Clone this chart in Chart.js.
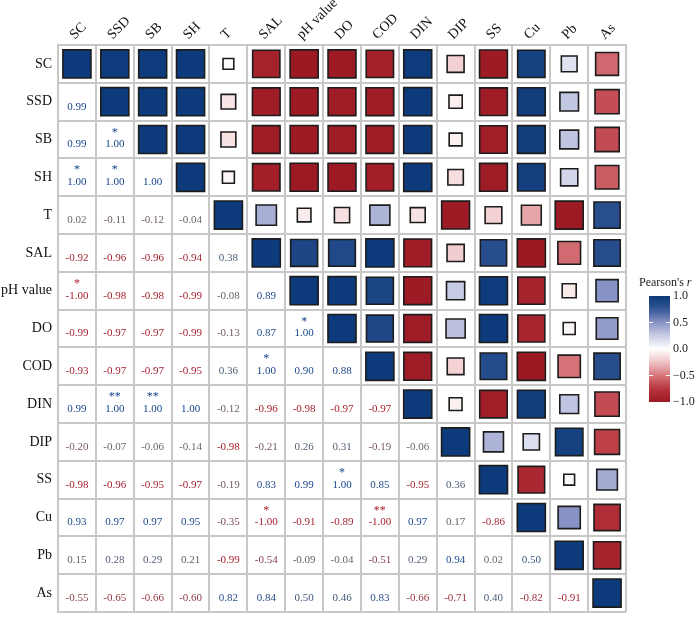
<!DOCTYPE html>
<html lang="en">
<head>
    <meta charset="UTF-8">
    <title>Correlation matrix</title>
    <script src="https://cdn.jsdelivr.net/npm/chart.js"></script>
    <style>
        body { margin: 0; background: #fff; }
    </style>
</head>
<body>
    <canvas id="myChart" width="700" height="617"></canvas>

    <script>
        const vars = ['SC', 'SSD', 'SB', 'SH', 'T', 'SAL', 'pH value', 'DO', 'COD', 'DIN', 'DIP', 'SS', 'Cu', 'Pb', 'As'];

        // lower triangle, one row per variable (columns SC .. previous variable)
        const rSSD = [0.99];
        const rSB = [0.99, 1.00];
        const rSH = [1.00, 1.00, 1.00];
        const rT = [0.02, -0.11, -0.12, -0.04];
        const rSAL = [-0.92, -0.96, -0.96, -0.94, 0.38];
        const rPH = [-1.00, -0.98, -0.98, -0.99, -0.08, 0.89];
        const rDO = [-0.99, -0.97, -0.97, -0.99, -0.13, 0.87, 1.00];
        const rCOD = [-0.93, -0.97, -0.97, -0.95, 0.36, 1.00, 0.90, 0.88];
        const rDIN = [0.99, 1.00, 1.00, 1.00, -0.12, -0.96, -0.98, -0.97, -0.97];
        const rDIP = [-0.20, -0.07, -0.06, -0.14, -0.98, -0.21, 0.26, 0.31, -0.19, -0.06];
        const rSS = [-0.98, -0.96, -0.95, -0.97, -0.19, 0.83, 0.99, 1.00, 0.85, -0.95, 0.36];
        const rCu = [0.93, 0.97, 0.97, 0.95, -0.35, -1.00, -0.91, -0.89, -1.00, 0.97, 0.17, -0.86];
        const rPb = [0.15, 0.28, 0.29, 0.21, -0.99, -0.54, -0.09, -0.04, -0.51, 0.29, 0.94, 0.02, 0.50];
        const rAs = [-0.55, -0.65, -0.66, -0.60, 0.82, 0.84, 0.50, 0.46, 0.83, -0.66, -0.71, 0.40, -0.82, -0.91];

        // significance marks: [row, column, mark]
        const sigMarks = [
            ['SB', 'SSD', '*'], ['SH', 'SC', '*'], ['SH', 'SSD', '*'],
            ['pH value', 'SC', '*'], ['DO', 'pH value', '*'], ['COD', 'SAL', '*'],
            ['DIN', 'SSD', '**'], ['DIN', 'SB', '**'], ['SS', 'DO', '*'],
            ['Cu', 'SAL', '*'], ['Cu', 'COD', '**']
        ];

        const legendTicks = [1.0, 0.5, 0.0, -0.5, -1.0];

        const lowerRows = [[], rSSD, rSB, rSH, rT, rSAL, rPH, rDO, rCOD, rDIN, rDIP, rSS, rCu, rPb, rAs];
        const n = vars.length;
        const corr = [];
        for (let i = 0; i < n; i++) {
            corr.push([]);
            for (let j = 0; j < n; j++) {
                if (i === j) corr[i].push(1);
                else if (j < i) corr[i].push(lowerRows[i][j]);
                else corr[i].push(lowerRows[j][i]);
            }
        }

        const fillStops = [
            [-1, [155, 25, 35]], [-0.75, [184, 52, 62]], [-0.5, [214, 118, 123]],
            [-0.25, [240, 196, 198]], [0, [255, 255, 255]],
            [0.25, [202, 206, 230]], [0.5, [136, 146, 196]], [0.75, [52, 86, 150]],
            [1, [12, 58, 122]]
        ];
        const textStops = [[-1, [168, 30, 44]], [0, [105, 105, 105]], [1, [22, 70, 140]]];

        function colorAt(stops, v) {
            for (let k = 0; k < stops.length - 1; k++) {
                const [a, ca] = stops[k], [b, cb] = stops[k + 1];
                if (v >= a && v <= b) {
                    const t = (v - a) / (b - a);
                    const c = ca.map((x, q) => Math.round(x + (cb[q] - x) * t));
                    return 'rgb(' + c.join(',') + ')';
                }
            }
            return 'rgb(' + stops[stops.length - 1][1].join(',') + ')';
        }

        const squares = [];
        for (let i = 0; i < n; i++) {
            for (let j = i; j < n; j++) {
                squares.push({ x: vars[j], y: vars[i], r: corr[i][j] });
            }
        }

        function cellSize(chart) {
            const a = chart.chartArea;
            return a ? (a.right - a.left) / n : 37.8;
        }

        const serif = '"Liberation Serif", "DejaVu Serif", serif';

        const textPlugin = {
            id: 'cellText',
            afterDatasetsDraw(chart) {
                const ctx = chart.ctx;
                const xs = chart.scales.x, ys = chart.scales.y;
                ctx.save();
                ctx.textAlign = 'center';
                ctx.textBaseline = 'middle';
                for (let i = 1; i < n; i++) {
                    for (let j = 0; j < i; j++) {
                        const v = corr[i][j];
                        const px = xs.getPixelForValue(j);
                        const py = ys.getPixelForValue(i);
                        ctx.fillStyle = colorAt(textStops, v);
                        ctx.font = '11px ' + serif;
                        ctx.fillText(v.toFixed(2), px, py + 5);
                        const m = sigMarks.find(s => s[0] === vars[i] && s[1] === vars[j]);
                        if (m) {
                            ctx.font = '12px ' + serif;
                            ctx.fillText(m[2], px, py - 7);
                        }
                    }
                }
                ctx.restore();
            },
            afterDraw(chart) {
                // colour bar legend
                const ctx = chart.ctx;
                const bx = 649, bw = 21, top = 296, bot = 402;
                const yFor = v => top + (1 - v) / 2 * (bot - top);
                ctx.save();
                const g = ctx.createLinearGradient(0, top, 0, bot);
                for (let k = 0; k <= 20; k++) {
                    const v = 1 - k / 10;
                    g.addColorStop(k / 20, colorAt(fillStops, v));
                }
                ctx.fillStyle = g;
                ctx.fillRect(bx, top, bw, bot - top);
                ctx.strokeStyle = '#fff';
                ctx.lineWidth = 1;
                ctx.fillStyle = '#222';
                ctx.font = '12px ' + serif;
                ctx.textAlign = 'left';
                ctx.textBaseline = 'middle';
                legendTicks.forEach(v => {
                    const y = yFor(v);
                    if (Math.abs(v) < 1) {
                        ctx.beginPath();
                        ctx.moveTo(bx, y); ctx.lineTo(bx + 4, y);
                        ctx.moveTo(bx + bw - 4, y); ctx.lineTo(bx + bw, y);
                        ctx.stroke();
                    }
                    const s = v.toFixed(1).replace('-', '\u2212');
                    ctx.fillText(s, bx + bw + 3, y);
                });
                ctx.textBaseline = 'alphabetic';
                ctx.font = '12px ' + serif;
                ctx.fillText("Pearson's ", 639, 286);
                const w = ctx.measureText("Pearson's ").width;
                ctx.font = 'italic 12px ' + serif;
                ctx.fillText('r', 639 + w, 286);
                ctx.restore();
            }
        };

        const ctx = document.getElementById('myChart').getContext('2d');
        const myChart = new Chart(ctx, {
            type: 'scatter',
            data: {
                datasets: [{
                    label: 'correlation',
                    data: squares,
                    pointStyle: 'rect',
                    pointRadius: c => {
                        const v = c.raw ? Math.abs(c.raw.r) : 1;
                        const side = cellSize(c.chart) * (0.209 + 0.532 * Math.sqrt(v));
                        return side / Math.SQRT2;
                    },
                    backgroundColor: c => c.raw ? colorAt(fillStops, c.raw.r) : '#fff',
                    borderColor: '#1c1c1c',
                    borderWidth: 1.6
                }]
            },
            plugins: [textPlugin],
            options: {
                responsive: false,
                maintainAspectRatio: false,
                animation: false,
                events: [],
                layout: { autoPadding: false, padding: { left: 0, top: 0, right: 74, bottom: 5 } },
                plugins: {
                    legend: { display: false },
                    tooltip: { enabled: false }
                },
                scales: {
                    x: {
                        type: 'category',
                        labels: vars,
                        position: 'top',
                        offset: true,
                        grid: { offset: true, color: '#c8c8c8', lineWidth: 2, drawTicks: false },
                        border: { color: '#c8c8c8', width: 2 },
                        ticks: {
                            autoSkip: false,
                            maxRotation: 45,
                            minRotation: 45,
                            labelOffset: 7,
                            padding: 2,
                            color: '#111',
                            font: { family: serif, size: 14 }
                        },
                        afterFit: s => {
                            s.height = 45;
                            s.paddingLeft = 0;
                            s.paddingRight = 0;
                        }
                    },
                    y: {
                        type: 'category',
                        labels: vars,
                        offset: true,
                        grid: { offset: true, color: '#c8c8c8', lineWidth: 2, drawTicks: false },
                        border: { color: '#c8c8c8', width: 2 },
                        ticks: {
                            autoSkip: false,
                            padding: 6,
                            color: '#111',
                            font: { family: serif, size: 14 }
                        },
                        afterFit: s => {
                            s.width = 58;
                            s.paddingTop = 0;
                            s.paddingBottom = 0;
                        }
                    }
                }
            }
        });
    </script>
</body>
</html>
